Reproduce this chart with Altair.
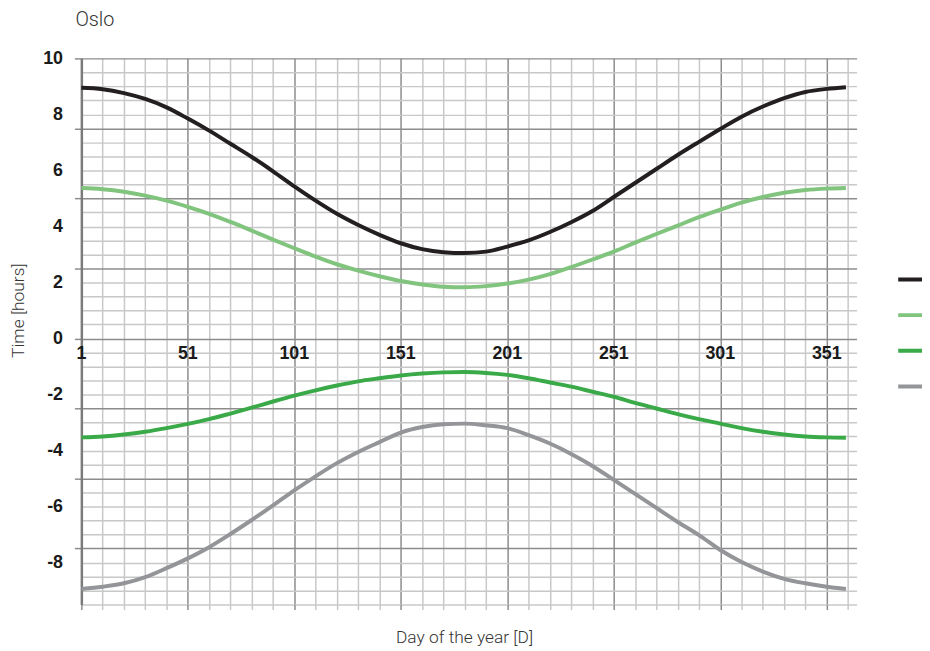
import altair as alt
import pandas as pd

# ---- data ----
days = [1, 11, 21, 31, 41, 51, 61, 71, 81, 91, 101, 111, 121, 131, 141, 151, 161, 171, 181,
        191, 201, 211, 221, 231, 241, 251, 261, 271, 281, 291, 301, 311, 321, 331, 341, 351, 360]

series_names = ["Series 1", "Series 2", "Series 3", "Series 4"]
series_colors = ["#231f20", "#80c47e", "#3aaa48", "#939598"]

s1 = [8.95, 8.90, 8.76, 8.55, 8.25, 7.85, 7.42, 6.95, 6.48, 5.97,
      5.43, 4.92, 4.45, 4.05, 3.70, 3.40, 3.19, 3.08, 3.05, 3.10,
      3.28, 3.50, 3.80, 4.15, 4.55, 5.05, 5.55, 6.05, 6.55, 7.02,
      7.48, 7.92, 8.28, 8.58, 8.80, 8.91, 8.97]
s2 = [5.37, 5.33, 5.24, 5.10, 4.92, 4.70, 4.45, 4.16, 3.85, 3.53,
      3.22, 2.92, 2.65, 2.42, 2.22, 2.05, 1.93, 1.85, 1.83, 1.87,
      1.96, 2.10, 2.30, 2.55, 2.82, 3.10, 3.42, 3.73, 4.03, 4.33,
      4.60, 4.85, 5.05, 5.20, 5.30, 5.35, 5.37]
s3 = [-3.53, -3.50, -3.43, -3.33, -3.20, -3.05, -2.88, -2.68, -2.47, -2.25,
      -2.04, -1.85, -1.68, -1.53, -1.42, -1.32, -1.25, -1.21, -1.20, -1.23,
      -1.30, -1.42, -1.57, -1.72, -1.90, -2.08, -2.30, -2.50, -2.70, -2.88,
      -3.04, -3.20, -3.33, -3.43, -3.50, -3.53, -3.54]
s4 = [-8.94, -8.86, -8.74, -8.52, -8.20, -7.85, -7.45, -6.98, -6.48, -5.96,
      -5.42, -4.92, -4.45, -4.05, -3.70, -3.36, -3.16, -3.06, -3.04, -3.10,
      -3.20, -3.45, -3.75, -4.12, -4.55, -5.05, -5.55, -6.05, -6.55, -7.02,
      -7.55, -7.98, -8.32, -8.58, -8.74, -8.86, -8.94]

x_label_days = [1, 51, 101, 151, 201, 251, 301, 351]
x_grid_days = list(range(1, 362, 10))
y_grid_values = [-9.5 + 0.5 * i for i in range(40)]

rows = []
for name, vals in zip(series_names, [s1, s2, s3, s4]):
    for d, v in zip(days, vals):
        rows.append({"day": d, "value": v, "series": name})
df = pd.DataFrame(rows)
labels_df = pd.DataFrame({"day": x_label_days, "value": [0] * len(x_label_days)})

MAJOR = "#8c8c8c"
MINOR = "#c8c8c8"
TITLE_FONT = "Roboto"

x_scale = alt.Scale(domain=[1, 365], nice=False, zero=False)
y_scale = alt.Scale(domain=[-9.5, 10], nice=False, zero=False)

x_axis = alt.Axis(
    values=x_grid_days,
    tickCount=200,
    grid=True,
    gridColor={"condition": {"test": "(datum.value - 1) % 50 === 0", "value": MAJOR}, "value": MINOR},
    gridWidth=1.5,
    ticks=True,
    tickSize=5,
    tickWidth=1.5,
    tickColor={"condition": {"test": "(datum.value - 1) % 50 === 0", "value": MAJOR}, "value": MINOR},
    labels=False,
    domain=False,
    title="Day of the year [D]",
    titleX=386,
    titleY=38,
    titleAlign="center",
    titleBaseline="alphabetic",
    titleFont=TITLE_FONT,
    titleFontSize=17.5,
    titleFontWeight=300,
    titleColor="#333333",
)

y_axis = alt.Axis(
    values=y_grid_values,
    tickCount=200,
    grid=True,
    gridColor={"condition": {"test": "datum.value % 2.5 === 0", "value": MAJOR}, "value": MINOR},
    gridWidth=1.5,
    ticks=True,
    tickSize=7,
    tickWidth=1.5,
    tickColor={"condition": {"test": "datum.value % 2.5 === 0", "value": MAJOR}, "value": "transparent"},
    labelExpr="datum.value % 2 === 0 ? '' + datum.value : ''",
    labelOverlap=False,
    labelPadding=12,
    labelFont="Liberation Sans",
    labelFontSize=18,
    labelFontWeight="bold",
    labelColor="#1a1a1a",
    domain=True,
    domainColor="#7a7a7a",
    domainWidth=2.5,
    title="Time [hours]",
    titleX=-63,
    titleY=254,
    titleAngle=-90,
    titleAlign="center",
    titleBaseline="middle",
    titleFont=TITLE_FONT,
    titleFontSize=17.5,
    titleFontWeight=300,
    titleColor="#333333",
)

lines = alt.Chart(df).mark_line(interpolate="monotone", strokeWidth=4).encode(
    x=alt.X("day:Q", scale=x_scale, axis=x_axis),
    y=alt.Y("value:Q", scale=y_scale, axis=y_axis),
    color=alt.Color(
        "series:N",
        scale=alt.Scale(domain=series_names, range=series_colors),
        legend=alt.Legend(
            orient="none",
            legendX=822,
            legendY=203,
            title=None,
            symbolType="stroke",
            symbolSize=1296,
            symbolStrokeWidth=4,
            labelExpr="''",
            labelOffset=0,
            rowPadding=8,
            padding=0,
        ),
    ),
)

xlabels = alt.Chart(labels_df).mark_text(
    baseline="top", dy=7, align="center", font="Liberation Sans",
    fontSize=18, fontWeight="bold", color="#1a1a1a"
).encode(
    x=alt.X("day:Q", scale=x_scale),
    y=alt.Y("value:Q", scale=y_scale),
    text=alt.Text("day:Q"),
)

chart = alt.layer(lines, xlabels).properties(
    width=782,
    height=551,
    autosize=alt.AutoSizeParams(type="none"),
    padding={"left": 74, "top": 48, "right": 66, "bottom": 44},
    title=alt.TitleParams(
        text="Oslo", anchor="start", frame="group", dx=-6, offset=0,
        baseline="bottom", font=TITLE_FONT, fontSize=20, fontWeight=300,
        color="#333333",
    ),
).configure_view(stroke=None)

chart.save("out.html", embed_options={"renderer": "svg", "actions": False})
